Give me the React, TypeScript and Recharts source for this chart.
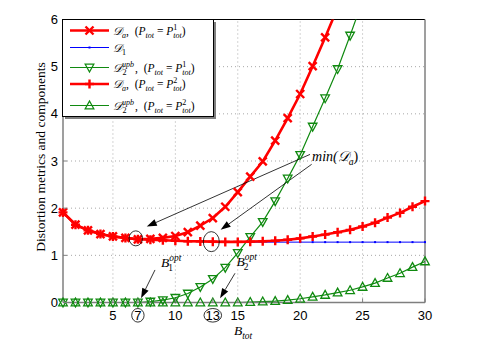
import React from "react";
import { LineChart, Line, XAxis, YAxis, CartesianGrid, ReferenceLine, ReferenceDot } from "recharts";

const B = [1, 2, 3, 4, 5, 6, 7, 8, 9, 10, 11, 12, 13, 14, 15, 16, 17, 18, 19, 20, 21, 22, 23, 24, 25, 26, 27, 28, 29, 30];
const D_A_P1 = [1.91, 1.65, 1.53, 1.45, 1.4, 1.37, 1.34, 1.35, 1.37, 1.41, 1.49, 1.63, 1.79, 2.03, 2.34, 2.67, 2.99, 3.43, 3.91, 4.42, 5.01, 5.62, 6.25, null, null, null, null, null, null, null];
const D1 = [1.91, 1.65, 1.53, 1.45, 1.4, 1.37, 1.34, 1.33, 1.32, 1.31, 1.3, 1.295, 1.29, 1.285, 1.285, 1.28, 1.28, 1.28, 1.28, 1.28, 1.28, 1.28, 1.28, 1.28, 1.28, 1.28, 1.28, 1.28, 1.28, 1.28];
const D2_P1 = [0, 0, 0, 0, 0, 0, 0, 0.02, 0.05, 0.1, 0.19, 0.33, 0.5, 0.74, 1.05, 1.39, 1.71, 2.15, 2.63, 3.13, 3.73, 4.33, 4.95, 5.66, 6.4, null, null, null, null, null];
const D_A_P2 = [1.91, 1.65, 1.53, 1.45, 1.4, 1.37, 1.34, 1.33, 1.32, 1.31, 1.3, 1.295, 1.29, 1.285, 1.285, 1.29, 1.3, 1.31, 1.33, 1.36, 1.4, 1.44, 1.49, 1.54, 1.61, 1.69, 1.8, 1.9, 2.03, 2.15];
const D2_P2 = [0, 0, 0, 0, 0, 0, 0, 0, 0, 0, 0, 0, 0, 0, 0, 0.01, 0.02, 0.03, 0.05, 0.08, 0.12, 0.16, 0.21, 0.26, 0.33, 0.41, 0.52, 0.62, 0.75, 0.87];

const X_TICKS = [5, 7, 10, 13, 15, 20, 25, 30];
const X_CIRCLED = [7, 13];
const X_GRID = [5, 10, 15, 20, 25];
const Y_TICKS = [0, 1, 2, 3, 4, 5, 6];
const Y_GRID = [1, 2, 3, 4, 5];
const Y_MAX = 6;

// annotations in data units
const ARROWS = [
  { from: [20.79, 3.14], to: [7.71, 1.61] },
  { from: [20.92, 2.93], to: [13.63, 1.54] },
  { from: [8.37, 0.69], to: [7.25, 0.09] },
  { from: [14.78, 0.62], to: [13.58, 0.09] },
];
const ELLIPSES = [
  { b: 6.83, v: 1.36, rx: 6.7, ry: 7.5 },
  { b: 12.88, v: 1.29, rx: 8, ry: 10 },
];
const MIN_LABEL = { b: 20.95, v: 3.1 };
const B_LABELS = [
  { b: 8.85, v: 0.76, n: "1" },
  { b: 14.9, v: 0.78, n: "2" },
];

const RED = "#ff0000";
const BLUE = "#0000ff";
const GREEN = "#108a10";
const AXIS_GRAY = "#7f7f7f";
const GRID = "#a8a8a8";
const SERIF = "'Liberation Serif', 'DejaVu Serif', serif";
const SANS = "'Liberation Sans', Arial, sans-serif";

const inView = (v: number | null) => (v == null || v > Y_MAX ? null : v);

const data = B.map((b, i) => ({
  b,
  daP1: D_A_P1[i],
  d1: D1[i],
  d2P1: D2_P1[i],
  daP2: D_A_P2[i],
  d2P2: D2_P2[i],
  // marker copies, only points inside the y range (drawn unclipped)
  mDaP1: inView(D_A_P1[i]),
  mD1: inView(D1[i]),
  mD2P1: inView(D2_P1[i]),
  mDaP2: inView(D_A_P2[i]),
  mD2P2: inView(D2_P2[i]),
}));

type Seg = { t: string; it?: boolean; pos?: number; dx?: number };

function MathText({ x, y, size, segs, anchor = "start" }: { x: number; y: number; size: number; segs: Seg[]; anchor?: string }) {
  let cur = 0;
  return (
    <text x={x} y={y} fontFamily={SERIF} fontSize={size} textAnchor={anchor} style={{ whiteSpace: "pre" }} fill="#000">
      {segs.map((s, i) => {
        const target = s.pos === 1 ? -size * 0.42 : s.pos === -1 ? size * 0.3 : 0;
        const dy = target - cur;
        cur = target;
        return (
          <tspan key={i} dy={dy} dx={s.dx} fontStyle={s.it ? "italic" : "normal"} fontSize={s.pos ? size * 0.7 : size}>
            {s.t}
          </tspan>
        );
      })}
    </text>
  );
}

const D = "\u{1D49F}";

function legendSegs(sub: string, upb: boolean, p: string | null, size: number): Seg[] {
  const s = size * 0.7;
  const out: Seg[] = [{ t: D, it: true }];
  if (upb) {
    out.push({ t: "upb", it: true, pos: 1 });
    out.push({ t: sub, pos: -1, dx: -s * 1.45 });
    out.push({ t: "   ", pos: 0 });
  } else {
    out.push({ t: sub, it: sub === "a", pos: -1 });
  }
  if (p) {
    out.push({ t: ",  (" });
    out.push({ t: "P", it: true });
    out.push({ t: "tot", it: true, pos: -1 });
    out.push({ t: " = " });
    out.push({ t: "P", it: true });
    out.push({ t: p, pos: 1 });
    out.push({ t: "tot", it: true, pos: -1, dx: -s * 0.5 });
    out.push({ t: ")" });
  }
  return out;
}

const cross = (color: string) => (p: any) => {
  const { cx, cy, index } = p;
  if (cx == null || cy == null) return <g key={index} />;
  const r = 4;
  return (
    <path key={index} d={`M${cx - r},${cy - r}L${cx + r},${cy + r}M${cx - r},${cy + r}L${cx + r},${cy - r}`} stroke={color} strokeWidth={2.4} fill="none" />
  );
};
const plus = (color: string) => (p: any) => {
  const { cx, cy, index } = p;
  if (cx == null || cy == null) return <g key={index} />;
  const r = 4.5;
  return <path key={index} d={`M${cx - r},${cy}L${cx + r},${cy}M${cx},${cy - r}L${cx},${cy + r}`} stroke={color} strokeWidth={2.4} fill="none" />;
};
const tri = (color: string, down: boolean) => (p: any) => {
  const { cx, cy, index } = p;
  if (cx == null || cy == null) return <g key={index} />;
  const w = 4.3;
  const pts = down
    ? `${cx - w},${cy - 3.3} ${cx + w},${cy - 3.3} ${cx},${cy + 4.5}`
    : `${cx - w},${cy + 3.3} ${cx + w},${cy + 3.3} ${cx},${cy - 4.5}`;
  return <polygon key={index} points={pts} stroke={color} strokeWidth={1.3} fill="none" />;
};
const point = (color: string) => (p: any) => {
  const { cx, cy, index } = p;
  if (cx == null || cy == null) return <g key={index} />;
  return <rect key={index} x={cx - 1} y={cy - 1} width={2} height={2} fill={color} />;
};

const SERIES = [
  { key: "daP1", mk: "mDaP1", color: RED, width: 2.6, mark: cross(RED) },
  { key: "d1", mk: "mD1", color: BLUE, width: 1, mark: point(BLUE) },
  { key: "d2P1", mk: "mD2P1", color: GREEN, width: 1.2, mark: tri(GREEN, true) },
  { key: "daP2", mk: "mDaP2", color: RED, width: 2.6, mark: plus(RED) },
  { key: "d2P2", mk: "mD2P2", color: GREEN, width: 1.2, mark: tri(GREEN, false) },
];

const LEGEND = [
  { sub: "a", upb: false, p: "1", y: 11.5 },
  { sub: "1", upb: false, p: null, y: 28.5 },
  { sub: "2", upb: true, p: "1", y: 48.5 },
  { sub: "a", upb: false, p: "2", y: 65 },
  { sub: "2", upb: true, p: "2", y: 86.5 },
];

function Legend() {
  return (
    <svg width={156} height={102} style={{ position: "absolute", left: 62, top: 19 }}>
      <rect x={3} y={3} width={151} height={97} fill={AXIS_GRAY} />
      <rect x={0.5} y={0.5} width={151} height={97} fill="#fff" stroke="#000" strokeWidth={1} />
      {LEGEND.map((l, i) => {
        const s = SERIES[i];
        return (
          <g key={i}>
            <line x1={8} x2={47} y1={l.y} y2={l.y} stroke={s.color} strokeWidth={s.width} />
            {s.mark({ cx: 27.5, cy: l.y, index: i })}
            <MathText x={51} y={l.y + 4} size={11.5} segs={legendSegs(l.sub, l.upb, l.p, 11.5)} />
          </g>
        );
      })}
    </svg>
  );
}

const XTick = (props: any) => {
  const { x, y, payload } = props;
  const v = payload.value;
  const circled = X_CIRCLED.includes(v);
  return (
    <g>
      <line x1={x} x2={x} y1={y} y2={y - 4} stroke={AXIS_GRAY} />
      <text x={x} y={y + 17.5} textAnchor="middle" fontFamily={SANS} fontSize={13} fill="#000">
        {v}
      </text>
      {circled && <ellipse cx={x} cy={y + 12.8} rx={v >= 10 ? 8.8 : 6.2} ry={6.8} fill="none" stroke="#000" strokeWidth={0.8} />}
    </g>
  );
};

const YTick = (props: any) => {
  const { x, y, payload } = props;
  return (
    <g>
      <line x1={x} x2={x + 4} y1={y} y2={y} stroke={AXIS_GRAY} />
      <text x={x - 5} y={y + 4.6} textAnchor="end" fontFamily={SANS} fontSize={13} fill="#000">
        {payload.value}
      </text>
    </g>
  );
};

const arrowShape = (p: any) => {
  const { x1, y1, x2, y2 } = p;
  const dx = x2 - x1;
  const dy = y2 - y1;
  const len = Math.sqrt(dx * dx + dy * dy);
  const ux = dx / len;
  const uy = dy / len;
  const hl = 10;
  const hw = 3.5;
  const bx = x2 - ux * hl;
  const by = y2 - uy * hl;
  return (
    <g>
      <line x1={x1} y1={y1} x2={bx} y2={by} stroke="#000" strokeWidth={0.8} />
      <polygon points={`${x2},${y2} ${bx - uy * hw},${by + ux * hw} ${bx + uy * hw},${by - ux * hw}`} fill="#000" />
    </g>
  );
};

export default function App() {
  return (
    <div style={{ position: "absolute", left: 0, top: 0, width: 485, height: 344, background: "#fff" }}>
      <LineChart width={485} height={344} data={data} margin={{ top: 19.5, right: 60, left: 0, bottom: 0 }}>
        <CartesianGrid horizontal={false} vertical={false} />
        {Y_GRID.map((v) => (
          <ReferenceLine key={`gy${v}`} y={v} stroke={GRID} strokeDasharray="1 3" />
        ))}
        {X_GRID.map((v) => (
          <ReferenceLine key={`gx${v}`} x={v} stroke={GRID} strokeDasharray="1 3" />
        ))}
        <XAxis
          dataKey="b"
          type="number"
          domain={[1, 30]}
          ticks={X_TICKS}
          tick={<XTick />}
          tickLine={false}
          tickSize={0}
          tickMargin={0}
          height={41.5}
          axisLine={{ stroke: AXIS_GRAY, strokeWidth: 1.5 }}
          label={{
            content: ({ viewBox }: any) => (
              <MathText
                x={viewBox.x + viewBox.width / 2 - 10}
                y={viewBox.y + 32.5}
                size={13.5}
                segs={[
                  { t: "B", it: true },
                  { t: "tot", it: true, pos: -1 },
                ]}
              />
            ),
          }}
        />
        <YAxis
          type="number"
          domain={[0, Y_MAX]}
          ticks={Y_TICKS}
          allowDataOverflow
          width={63}
          tick={<YTick />}
          tickLine={false}
          tickSize={0}
          tickMargin={0}
          axisLine={{ stroke: AXIS_GRAY, strokeWidth: 1.5 }}
          label={{
            content: ({ viewBox }: any) => {
              const cx = viewBox.x + 40;
              const cy = viewBox.y + viewBox.height / 2 - 4;
              return (
                <text x={cx} y={cy} transform={`rotate(-90, ${cx}, ${cy})`} textAnchor="middle" dominantBaseline="central" fontFamily={SERIF} fontSize={13.5} fill="#000">
                  Distortion metrics and components
                </text>
              );
            },
          }}
        />
        <YAxis yAxisId="mk" hide type="number" domain={[0, Y_MAX]} />
        <ReferenceLine y={Y_MAX} stroke="#000" strokeWidth={1.2} />
        <ReferenceLine x={30} stroke={AXIS_GRAY} strokeWidth={1.5} />

        {SERIES.map((s) => [
          <Line key={s.key} dataKey={s.key} stroke={s.color} strokeWidth={s.width} dot={false} isAnimationActive={false} />,
          <Line key={s.mk} yAxisId="mk" dataKey={s.mk} stroke="none" dot={s.mark} activeDot={false} isAnimationActive={false} />,
        ])}

        {ELLIPSES.map((e, i) => (
          <ReferenceDot
            key={`e${i}`}
            x={e.b}
            y={e.v}
            shape={(p: any) => <ellipse cx={p.cx} cy={p.cy} rx={e.rx} ry={e.ry} fill="none" stroke="#000" strokeWidth={0.8} />}
          />
        ))}
        {ARROWS.map((a, i) => (
          <ReferenceLine
            key={`a${i}`}
            segment={[
              { x: a.from[0], y: a.from[1] },
              { x: a.to[0], y: a.to[1] },
            ]}
            shape={arrowShape}
          />
        ))}
        <ReferenceDot
          x={MIN_LABEL.b}
          y={MIN_LABEL.v}
          shape={(p: any) => (
            <MathText
              x={p.cx}
              y={p.cy + 4.5}
              size={14}
              segs={[{ t: "min(", it: true }, { t: D, it: true }, { t: "a", it: true, pos: -1 }, { t: ")", pos: 0 }]}
            />
          )}
        />
        {B_LABELS.map((l, i) => (
          <ReferenceDot
            key={`bl${i}`}
            x={l.b}
            y={l.v}
            shape={(p: any) => (
              <MathText
                x={p.cx}
                y={p.cy}
                size={13.5}
                segs={[
                  { t: "B", it: true },
                  { t: "opt", it: true, pos: 1 },
                  { t: l.n, pos: -1, dx: -13 },
                ]}
              />
            )}
          />
        ))}
      </LineChart>
      <Legend />
    </div>
  );
}
